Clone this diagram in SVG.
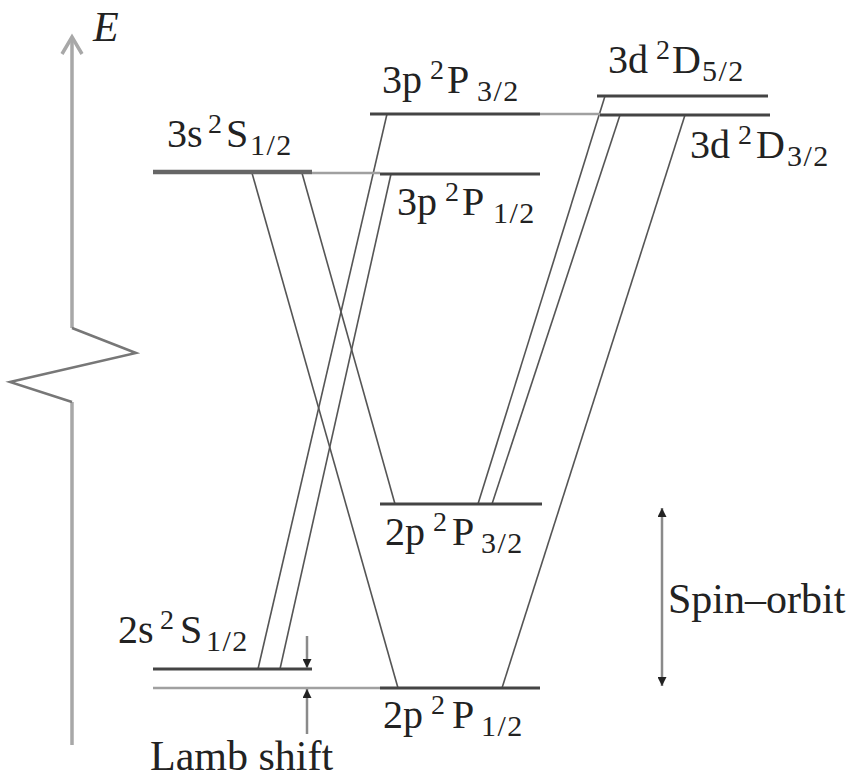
<svg xmlns="http://www.w3.org/2000/svg" width="854" height="778" viewBox="0 0 854 778">
<style>
text{font-family:"Liberation Serif","Times New Roman",serif;fill:#222}
.lab{font-size:40px}
.big{font-size:42px}
.sup{font-size:28px}
.sub{font-size:30px;letter-spacing:1.5px}
.lvl{stroke:#444;stroke-width:3;fill:none}
.ext{stroke:#a0a0a0;stroke-width:2.5;fill:none}
.tr{stroke:#555;stroke-width:1.6;fill:none}
.axis{stroke:#a8a8a8;stroke-width:3.5;fill:none}
.zig{stroke:#777;stroke-width:2.5;fill:none;stroke-linejoin:miter}
.dim{stroke:#8a8a8a;stroke-width:2.5;fill:none}
</style>
<defs>
<marker id="ah" viewBox="0 0 10 10" refX="10" refY="5" markerWidth="10" markerHeight="9" markerUnits="userSpaceOnUse" orient="auto-start-reverse">
<path d="M0,0 L10,5 L0,10 z" fill="#222"/>
</marker>
</defs>
<rect width="854" height="778" fill="#fff"/>

<g id="axis">
<path class="axis" d="M72,745 V402 M72,328 V38"/>
<path class="zig" d="M72,402 L10,382 L136,353 L72,328"/>
<polyline class="axis" points="62,54 72,37 82,54"/>
<text x="93" y="41" style="font-size:42px;font-style:italic">E</text>
</g>

<g id="connectors">
<line class="tr" x1="252" y1="173" x2="398" y2="688"/>
<line class="tr" x1="302" y1="173" x2="395" y2="504"/>
<line class="tr" x1="258" y1="669" x2="387" y2="114"/>
<line class="tr" x1="280" y1="669" x2="391" y2="174"/>
<line class="tr" x1="478" y1="504" x2="605" y2="96"/>
<line class="tr" x1="492" y1="504" x2="620" y2="115"/>
<line class="tr" x1="502" y1="688" x2="685" y2="115"/>
</g>

<g id="level-3s">
<line x1="153" y1="172" x2="312" y2="172" stroke="#666" stroke-width="4.5"/>
<line class="ext" x1="312" y1="173" x2="380" y2="173"/>
<text class="lab" x="167" y="147">3s<tspan class="sup" x="208" y="133">2</tspan><tspan x="226" y="147">S</tspan><tspan class="sub" x="250" y="155">1/2</tspan></text>
</g>

<g id="level-3p12">
<line class="lvl" x1="380" y1="174" x2="540" y2="174"/>
<text class="lab" x="397" y="215">3p<tspan class="sup" x="445" y="201">2</tspan><tspan x="462" y="215">P</tspan><tspan class="sub" x="493" y="223">1/2</tspan></text>
</g>

<g id="level-3p32">
<line class="lvl" x1="370" y1="114" x2="540" y2="114"/>
<line class="ext" x1="540" y1="114" x2="600" y2="114"/>
<text class="lab" x="382" y="93">3p<tspan class="sup" x="430" y="79">2</tspan><tspan x="447" y="93">P</tspan><tspan class="sub" x="477" y="101">3/2</tspan></text>
</g>

<g id="level-3d52">
<line class="lvl" x1="597" y1="96" x2="768" y2="96"/>
<text class="lab" x="608" y="73">3d<tspan class="sup" x="656" y="59">2</tspan><tspan x="672" y="73">D</tspan><tspan class="sub" x="702" y="81">5/2</tspan></text>
</g>

<g id="level-3d32">
<line class="lvl" x1="600" y1="115" x2="770" y2="115"/>
<text class="lab" x="690" y="158">3d<tspan class="sup" x="738" y="144">2</tspan><tspan x="756" y="158">D</tspan><tspan class="sub" x="787" y="166">3/2</tspan></text>
</g>

<g id="level-2p32">
<line class="lvl" x1="380" y1="504" x2="542" y2="504"/>
<text class="lab" x="385" y="545">2p<tspan class="sup" x="433" y="531">2</tspan><tspan x="452" y="545">P</tspan><tspan class="sub" x="481" y="553">3/2</tspan></text>
</g>

<g id="level-2s">
<line class="lvl" x1="153" y1="669" x2="312" y2="669" stroke="#555"/>
<text class="lab" x="118" y="643">2s<tspan class="sup" x="160" y="629">2</tspan><tspan x="180" y="643">S</tspan><tspan class="sub" x="206" y="651">1/2</tspan></text>
</g>

<g id="level-2p12">
<line class="ext" x1="153" y1="688" x2="380" y2="688" stroke="#888"/>
<line class="lvl" x1="380" y1="688" x2="540" y2="688"/>
<text class="lab" x="383" y="728">2p<tspan class="sup" x="431" y="714">2</tspan><tspan x="452" y="728">P</tspan><tspan class="sub" x="481" y="736">1/2</tspan></text>
</g>

<g id="lamb-shift">
<line class="dim" x1="307" y1="636" x2="307" y2="668" marker-end="url(#ah)"/>
<line class="dim" x1="307" y1="734" x2="307" y2="689" marker-end="url(#ah)"/>
<text class="big" x="150" y="770">Lamb shift</text>
</g>

<g id="spin-orbit">
<line class="dim" x1="662" y1="508" x2="662" y2="686" stroke="#999" stroke-width="3" marker-start="url(#ah)" marker-end="url(#ah)"/>
<text class="big" x="668" y="613">Spin–orbit</text>
</g>
</svg>
